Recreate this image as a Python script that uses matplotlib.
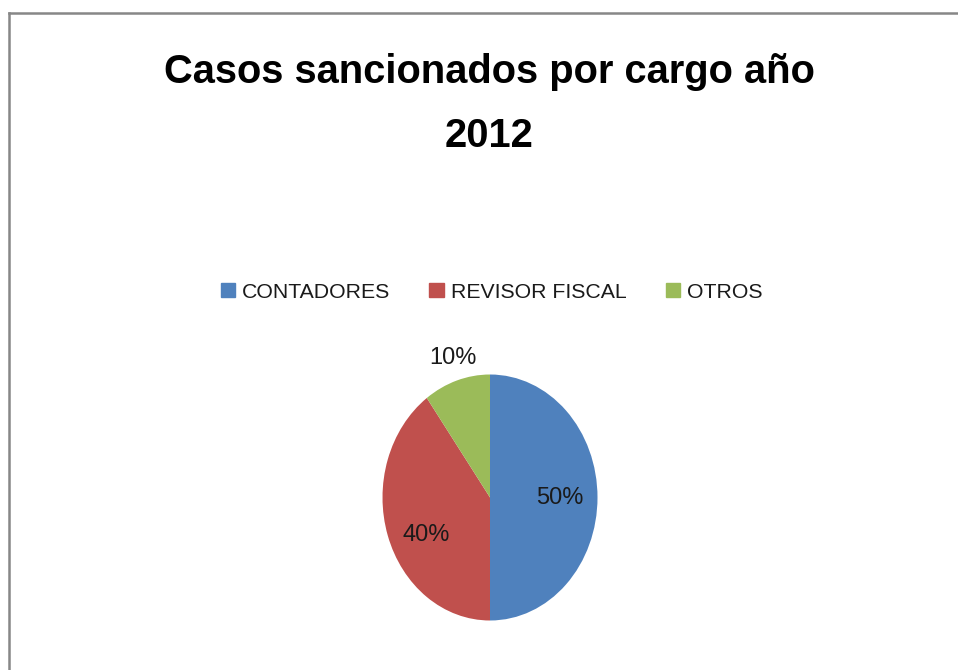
import matplotlib
matplotlib.use("Agg")
import matplotlib.pyplot as plt
from matplotlib.lines import Line2D
import numpy as np

# ---------------- data ----------------
CARGOS = ["CONTADORES", "REVISOR FISCAL", "OTROS"]
PORCENTAJES = [50, 40, 10]
COLORES = ["#4F81BD", "#C0504D", "#9BBB59"]
TITULO = ["Casos sancionados por cargo año", "2012"]

# label placement (radius in pie units, extra angle in degrees)
LABEL_R = [0.65, 0.67, 1.19]
LABEL_DANG = [0, 9, -1]

W, H = 958, 670
fig = plt.figure(figsize=(W / 100, H / 100), dpi=100)
fig.patch.set_facecolor("white")

# pie axes, stretched a bit taller than wide like the original
rx, ry = 107.5, 123.0
cx, cy = 490.0, 497.5
aw, ah = 2.5 * rx, 2.5 * ry
ax = fig.add_axes([(cx - aw / 2) / W, (H - cy - ah / 2) / H, aw / W, ah / H])

wedges, _ = ax.pie(PORCENTAJES, colors=COLORES, startangle=90,
                   counterclock=False, labels=None,
                   wedgeprops=dict(linewidth=0))
ax.set_aspect("auto")
ax.set_xlim(-1.25, 1.25)
ax.set_ylim(-1.25, 1.25)
ax.axis("off")

for w, pct, r, da in zip(wedges, PORCENTAJES, LABEL_R, LABEL_DANG):
    ang = np.deg2rad((w.theta1 + w.theta2) / 2 + da)
    ax.text(r * np.cos(ang), r * np.sin(ang), f"{pct}%",
            ha="center", va="center", fontsize=17, color="#1a1a1a",
            family="Liberation Sans")

# title (two lines, placed by baseline)
fig.text(489 / W, 1 - 83 / H, TITULO[0], ha="center", va="baseline",
         fontsize=28.7, fontweight="bold", family="Liberation Sans")
fig.text(489 / W, 1 - 147 / H, TITULO[1], ha="center", va="baseline",
         fontsize=28.7, fontweight="bold", family="Liberation Sans")

# legend
handles = [plt.Rectangle((0, 0), 1, 1, color=c) for c in COLORES]
fig.legend(handles, CARGOS, loc="center", ncol=3,
           bbox_to_anchor=(491.5 / W, 1 - 292 / H), frameon=False,
           prop=dict(family="Liberation Sans", size=15.3),
           handlelength=0.66, handleheight=0.66, handletextpad=0.33,
           columnspacing=1.85, labelcolor="#1a1a1a")

# chart area border (top and left, as in the cropped original)
fig.add_artist(Line2D([9 / W, 1], [1 - 13 / H, 1 - 13 / H], color="#878787",
                      linewidth=1.8, transform=fig.transFigure))
fig.add_artist(Line2D([9 / W, 9 / W], [0, 1 - 13 / H], color="#878787",
                      linewidth=1.8, transform=fig.transFigure))

fig.savefig("out.png", dpi=100)
